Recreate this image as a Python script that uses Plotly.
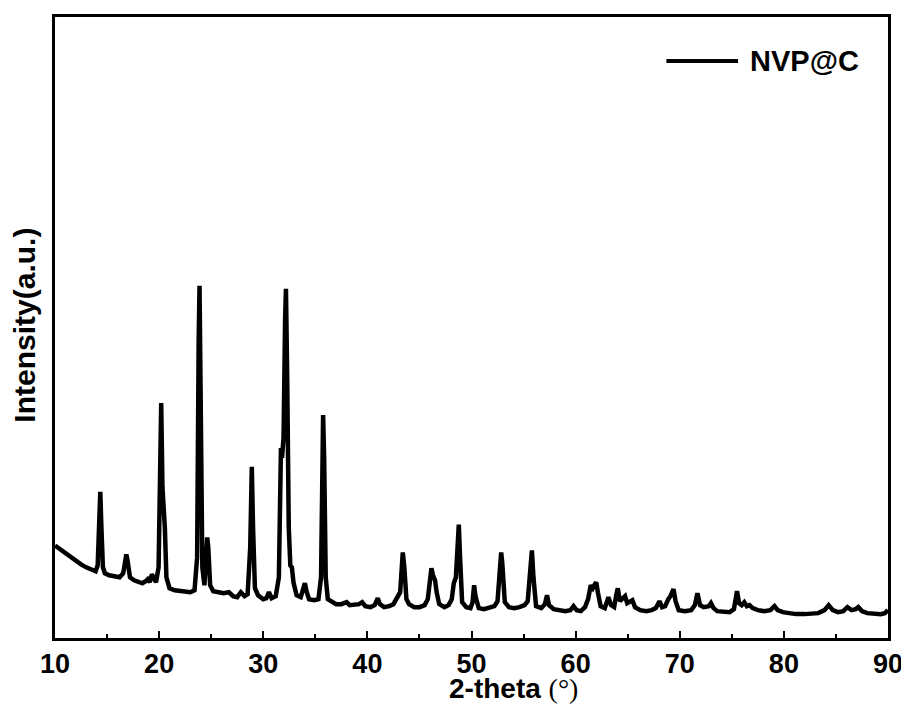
# -*- coding: utf-8 -*-
"""
Padrão de DRX - NVP@C (2-theta x intensidade, u.a.)
"""

import plotly.graph_objects as go

# ==============================================================================
# DADOS (intensidade em unidades arbitrárias)
# ==============================================================================
TWO_THETA = [
    10.0, 10.5, 11.0, 11.5, 12.0, 12.5, 13.0, 13.5, 13.9, 14.1, 14.25, 14.35, 14.45, 14.6, 14.8,
    15.2, 15.7, 16.2, 16.55, 16.75, 16.85, 16.95, 17.2, 17.6, 18.0, 18.4, 18.7, 18.9, 19.1, 19.3,
    19.45, 19.7, 19.95, 20.1, 20.2, 20.32, 20.45, 20.55, 20.7, 21.0, 21.5, 22.0, 22.5, 23.0, 23.4,
    23.65, 23.8, 23.88, 23.98, 24.15, 24.35, 24.5, 24.62, 24.72, 24.9, 25.2, 25.7, 26.2, 26.7, 27.1,
    27.5, 27.85, 28.2, 28.5, 28.75, 28.9, 29.02, 29.2, 29.5, 30.0, 30.3, 30.55, 30.8, 31.2, 31.5,
    31.7, 31.8, 31.95, 32.1, 32.18, 32.3, 32.45, 32.6, 32.75, 32.9, 33.2, 33.6, 33.85, 34.0, 34.15,
    34.4, 34.9, 35.3, 35.55, 35.75, 35.85, 36.0, 36.2, 36.6, 37.0, 37.5, 38.0, 38.3, 38.8, 39.2,
    39.5, 39.8, 40.3, 40.7, 41.0, 41.2, 41.6, 42.1, 42.5, 42.85, 43.15, 43.4, 43.55, 43.75, 44.0,
    44.5, 45.0, 45.5, 45.8, 46.05, 46.15, 46.3, 46.5, 46.65, 46.9, 47.4, 47.8, 48.1, 48.3, 48.5,
    48.7, 48.78, 48.9, 49.1, 49.5, 49.9, 50.1, 50.25, 50.4, 50.7, 51.2, 51.7, 52.2, 52.5, 52.75,
    52.85, 52.95, 53.2, 53.6, 54.1, 54.6, 55.1, 55.4, 55.65, 55.8, 55.95, 56.2, 56.7, 57.05, 57.25,
    57.45, 57.9, 58.5, 59.0, 59.5, 59.8, 60.1, 60.5, 60.9, 61.2, 61.45, 61.65, 61.85, 61.98, 62.15,
    62.4, 62.8, 63.15, 63.4, 63.7, 63.9, 64.05, 64.25, 64.5, 64.75, 64.95, 65.2, 65.45, 65.7, 66.2,
    66.8, 67.3, 67.7, 68.05, 68.3, 68.6, 68.9, 69.1, 69.4, 69.6, 69.9, 70.5, 71.1, 71.45, 71.7,
    71.95, 72.3, 72.8, 73.0, 73.25, 73.6, 74.2, 74.8, 75.2, 75.5, 75.7, 75.95, 76.2, 76.45, 76.7,
    77.0, 77.5, 78.1, 78.7, 79.1, 79.4, 79.9, 80.5, 81.2, 82.0, 82.7, 83.3, 83.9, 84.3, 84.7,
    85.2, 85.7, 86.1, 86.5, 86.9, 87.15, 87.5, 88.0, 88.7, 89.3, 89.7, 90.0,
]

INTENSIDADE = [
    92, 88, 84, 80, 77, 73, 70, 68, 66, 72, 110, 146, 112, 70, 64,
    62, 61, 60, 64, 80, 83, 78, 60, 57, 55, 54, 56, 58, 55, 63,
    60, 55, 70, 180, 235, 150, 132, 110, 60, 49, 47, 46, 45, 45, 47,
    80, 300, 353, 250, 70, 52, 75, 100, 90, 52, 46, 45, 44, 45, 41,
    40, 45, 41, 43, 90, 171, 110, 49, 42, 38, 39, 45, 39, 41, 60,
    190, 180, 200, 320, 350, 260, 110, 72, 70, 55, 42, 40, 48, 54, 46,
    38, 37, 38, 60, 223, 180, 60, 38, 35, 33, 33, 35, 32, 32, 33,
    35, 31, 30, 32, 39, 33, 30, 31, 33, 39, 45, 85, 70, 38, 33,
    30, 30, 32, 38, 60, 69, 62, 57, 45, 33, 30, 32, 38, 54, 60,
    105, 113, 80, 35, 30, 29, 35, 52, 40, 29, 28, 29, 31, 36, 80,
    85, 75, 35, 30, 29, 30, 32, 36, 70, 87, 60, 31, 29, 33, 42,
    32, 28, 27, 26, 27, 31, 27, 26, 30, 38, 52, 49, 53, 55, 44,
    31, 29, 40, 32, 30, 42, 49, 36, 38, 41, 34, 36, 37, 30, 27,
    26, 27, 29, 36, 30, 31, 38, 41, 48, 36, 27, 26, 27, 32, 44,
    32, 30, 31, 34, 29, 26, 25, 25, 28, 46, 34, 32, 35, 31, 32,
    29, 27, 26, 27, 31, 27, 25, 24, 23, 23, 24, 24, 27, 32, 27,
    25, 26, 30, 27, 28, 30, 26, 24, 23, 23, 24, 27,
]

X_TICKS = [10, 20, 30, 40, 50, 60, 70, 80, 90]
NOME_SERIE = "NVP@C"

FONTE = "Arial, Liberation Sans, sans-serif"
COR = "black"

# ==============================================================================
# FIGURA
# ==============================================================================
fig = go.Figure()

fig.add_trace(go.Scatter(
    x=TWO_THETA,
    y=INTENSIDADE,
    mode="lines",
    name=NOME_SERIE,
    line=dict(color=COR, width=4.5),
    showlegend=False,
))

# legenda desenhada à mão (linha longa + texto em negrito)
fig.add_shape(type="line", xref="paper", yref="paper",
              x0=0.734, x1=0.820, y0=0.929, y1=0.929,
              line=dict(color=COR, width=4))
fig.add_annotation(xref="paper", yref="paper", x=0.832, y=0.929,
                   xanchor="left", yanchor="middle", showarrow=False,
                   text=f"<b>{NOME_SERIE}</b>",
                   font=dict(family=FONTE, size=29, color=COR))

# títulos dos eixos
fig.add_annotation(xref="paper", yref="paper", x=0.55, y=0,
                   xanchor="center", yanchor="middle", yshift=-50, showarrow=False,
                   text="<b>2-theta</b> <span style='font-family:Liberation Serif, Times New Roman, serif;font-weight:normal'>(°)</span>",
                   font=dict(family=FONTE, size=28, color=COR))
fig.add_annotation(xref="paper", yref="paper", x=0, y=0.503,
                   xanchor="center", yanchor="middle", xshift=-30, showarrow=False,
                   textangle=-90,
                   text="<b>Intensity(a.u.)</b>",
                   font=dict(family=FONTE, size=30, color=COR))

# a página tem 8 px de margem no body: a figura é reduzida para caber em 909x706
fig.update_layout(
    width=901,
    height=698,
    template="plotly_white",
    plot_bgcolor="white",
    paper_bgcolor="white",
    margin=dict(l=47, r=19, t=6, b=68),
    showlegend=False,
)

fig.update_xaxes(
    range=[10, 90],
    tickvals=X_TICKS,
    ticks="inside",
    ticklen=7,
    tickwidth=2,
    tickcolor=COR,
    minor=dict(dtick=5, ticks="inside", ticklen=4, tickwidth=2, tickcolor=COR, showgrid=False),
    showgrid=False,
    zeroline=False,
    showline=True,
    linewidth=2.5,
    linecolor=COR,
    mirror=True,
    ticklabelstandoff=0,
    tickfont=dict(family=FONTE, size=27, color=COR, weight="bold"),
)
fig.update_yaxes(
    range=[-1, 623],
    showticklabels=False,
    ticks="",
    showgrid=False,
    zeroline=False,
    showline=True,
    linewidth=2.5,
    linecolor=COR,
    mirror=True,
)

fig.write_html("out.html")
